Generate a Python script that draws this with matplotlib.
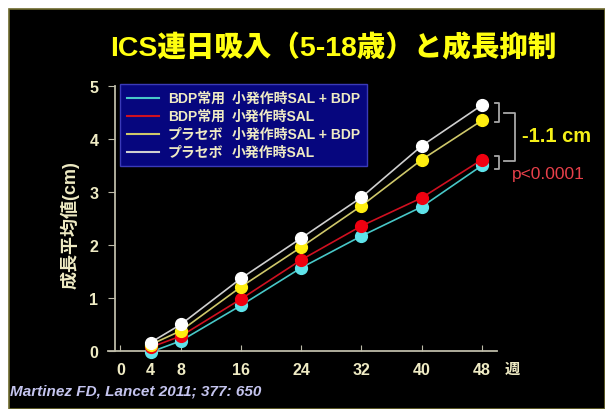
import matplotlib
matplotlib.use("Agg")
import matplotlib.pyplot as plt
from matplotlib.patches import Rectangle
from matplotlib.lines import Line2D

plt.rcParams['font.family'] = ['Liberation Sans', 'Noto Sans CJK JP', 'DejaVu Sans']

# ---- data ----
weeks = [4, 8, 16, 24, 32, 40, 48]
bdp_sal_bdp = [-0.02, 0.19, 0.86, 1.57, 2.17, 2.72, 3.50]   # BDP常用 小発作時SAL + BDP
bdp_sal = [0.07, 0.28, 0.98, 1.72, 2.36, 2.89, 3.61]        # BDP常用 小発作時SAL
plc_sal_bdp = [0.12, 0.38, 1.21, 1.96, 2.74, 3.61, 4.35]    # プラセボ 小発作時SAL + BDP
plc_sal = [0.16, 0.50, 1.37, 2.13, 2.90, 3.87, 4.64]        # プラセボ 小発作時SAL

x_ticks = [0, 4, 8, 16, 24, 32, 40, 48]
y_ticks = [0, 1, 2, 3, 4, 5]

legend_group = ['BDP常用', 'BDP常用', 'プラセボ', 'プラセボ']
legend_rescue = ['小発作時SAL + BDP', '小発作時SAL', '小発作時SAL + BDP', '小発作時SAL']

title = 'ICS連日吸入（5-18歳）と成長抑制'
ylabel = '成長平均値(cm)'
xunit = '週'
diff_label = '-1.1 cm'
p_label = 'p<0.0001'
citation = 'Martinez FD, Lancet 2011; 377: 650'

# ---- style ----
cream = '#EFEBC4'
axis_col = '#BDBBA8'
series = [
    (bdp_sal_bdp, '#48C8C8', '#5FE3EA'),
    (bdp_sal, '#D01020', '#F00010'),
    (plc_sal_bdp, '#CFC86A', '#FFEE10'),
    (plc_sal, '#D0D0D0', '#FFFFFF'),
]


def fx(px):
    return px / 605


def fy(py):
    return 1 - py / 410


fig = plt.figure(figsize=(6.05, 4.10), dpi=100, facecolor='white')
fig.patches.append(Rectangle((9 / 605, 0), 1 - 9 / 605, 400 / 410,
                             transform=fig.transFigure, facecolor='black',
                             edgecolor='#6E6A2E', linewidth=1.2, zorder=-10))

ax = fig.add_axes([0.178, 0.1415, 0.6435, 0.6463])
ax.set_facecolor('none')
ax.set_xlim(-1.7, 50)
ax.set_ylim(0, 5)

for vals, lc, mc in series:
    ax.plot(weeks, vals, color=lc, lw=1.2, marker='o', ms=8.5,
            markerfacecolor=mc, markeredgecolor=mc, clip_on=False, zorder=3)

# axes
for s in ['top', 'right']:
    ax.spines[s].set_visible(False)
ax.spines['left'].set_position(('data', -0.73))
for s in ['left', 'bottom']:
    ax.spines[s].set_color(axis_col)
    ax.spines[s].set_linewidth(1.3)
ax.set_xticks(x_ticks)
ax.set_yticks(y_ticks)
ax.set_xticklabels([str(t) for t in x_ticks])
ax.tick_params(axis='x', direction='in', length=4, color=axis_col, labelcolor=cream,
               labelsize=11.5, pad=8)
ax.tick_params(axis='y', direction='out', length=5, color=axis_col, labelcolor=cream,
               labelsize=11.5, pad=7)
for lab in ax.get_xticklabels() + ax.get_yticklabels():
    lab.set_fontweight('bold')

fig.text(fx(505), fy(370), xunit, color=cream, fontsize=11,
         fontweight='bold', ha='left', va='center')

fig.text(fx(70), fy(225), ylabel, rotation=90, color=cream, fontsize=13,
         fontweight='bold', ha='center', va='center')

fig.text(fx(333), fy(48), title, color='#FFFF10', fontsize=20.5,
         fontweight='black', ha='center', va='center')

# legend box
fig.patches.append(Rectangle((fx(120), fy(167)), fx(367) - fx(120), fy(85) - fy(167),
                             transform=fig.transFigure, facecolor='#06067E',
                             edgecolor='#3A3AB8', linewidth=1.0, zorder=5))
row_y = [99, 117, 135, 153]
for (vals, lc, mc), grp, resc, ry in zip(series, legend_group, legend_rescue, row_y):
    fig.add_artist(Line2D([fx(127), fx(159)], [fy(ry), fy(ry)], color=lc, lw=1.5,
                          transform=fig.transFigure, zorder=6))
    fig.text(fx(168), fy(ry), grp, color=cream, fontsize=10, fontweight='bold',
             ha='left', va='center', zorder=6)
    fig.text(fx(232), fy(ry), resc, color=cream, fontsize=10, fontweight='bold',
             ha='left', va='center', zorder=6)

# brackets at week 48
br = dict(color='#A8A8A8', lw=1.3, clip_on=False, transform=fig.transFigure)
fig.add_artist(Line2D([fx(495), fx(499), fx(499), fx(495)],
                      [fy(104), fy(104), fy(123), fy(123)], **br))
fig.add_artist(Line2D([fx(495), fx(499), fx(499), fx(495)],
                      [fy(157), fy(157), fy(170), fy(170)], **br))
fig.add_artist(Line2D([fx(504), fx(515), fx(515), fx(504)],
                      [fy(114), fy(114), fy(162), fy(162)], **br))

fig.text(fx(522), fy(137), diff_label, color='#F5F018', fontsize=14.5,
         fontweight='bold', ha='left', va='center')
fig.text(fx(512), fy(175), p_label, color='#E8404A', fontsize=12.5,
         ha='left', va='center')

fig.text(fx(10), fy(392), citation, color='#C4C4EE', fontsize=11,
         fontweight='bold', fontstyle='italic', ha='left', va='center')

fig.savefig('out.png', dpi=100, facecolor='white')
